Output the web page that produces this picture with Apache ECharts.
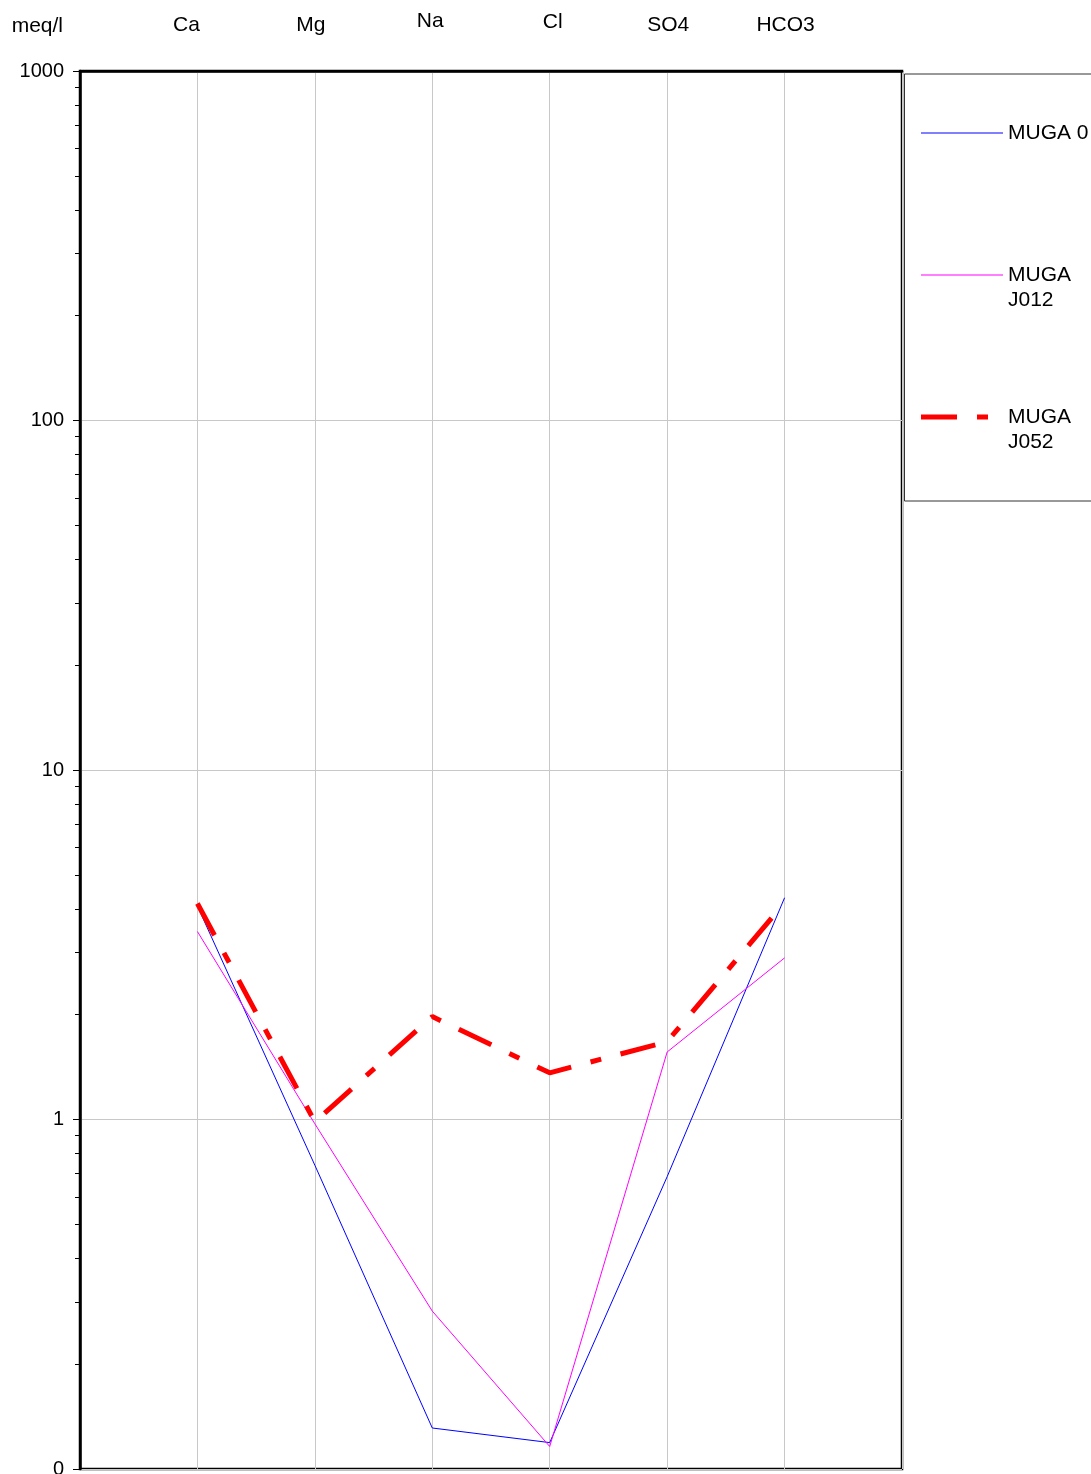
<!DOCTYPE html>
<html>
<head>
<meta charset="utf-8">
<title>Schoeller diagram</title>
<script src="https://cdn.jsdelivr.net/npm/echarts@6/dist/echarts.min.js"></script>
<style>
  html, body { margin: 0; padding: 0; background: #ffffff; }
  #chart { width: 1091px; height: 1474px; }
</style>
</head>
<body>
<div id="chart"></div>
<script>
// Ions along the horizontal axis
const ions = ['Ca', 'Mg', 'Na', 'Cl', 'SO4', 'HCO3'];

// Concentrations in meq/l for each sample
const mugaO = [4.08, 0.74, 0.131, 0.119, 0.686, 4.31];
const mugaJ012 = [3.45, 0.972, 0.283, 0.116, 1.56, 2.90];
const mugaJ052 = [4.15, 0.985, 1.97, 1.36, 1.67, 4.17];

// Sample names as shown in the legend
const sampleNames = ['MUGA 0', 'MUGA\nJ012', 'MUGA\nJ052'];
const sampleColors = ['#0000ff', '#ff00ff', '#ff0000'];

// Log axis tick labels (0.1 is printed as "0")
const yMajorTicks = [0.1, 1, 10, 100, 1000];
const yMajorLabels = ['0', '1', '10', '100', '1000'];

// Minor ticks at 2..9 of every decade
const yMinorTicks = [];
[0.1, 1, 10, 100].forEach(function (d) {
  for (let k = 2; k <= 9; k++) yMinorTicks.push(+(d * k).toPrecision(3));
});

const FONT = '"Liberation Sans", Arial, sans-serif';

// Small nudges of the ion headings (dx, dy in px) so they sit like hand-placed captions
const headingNudge = [[-11, 0], [-4, 0], [-2, -4], [3, -3], [1, 0], [1, 0]];

const headingRich = {};
headingNudge.forEach(function (n, i) {
  const dx = n[0], dy = n[1];
  headingRich['h' + i] = {
    fontFamily: FONT, fontSize: 21, color: '#000000',
    padding: [0, dx < 0 ? -2 * dx : 0, dy < 0 ? -dy : 0, dx > 0 ? 2 * dx : 0]
  };
});

function toPoints(values) {
  return values.map(function (v, i) { return [i + 1, v]; });
}

const seriesWidths = [1, 1, 5];

const chart = echarts.init(document.getElementById('chart'), null, { renderer: 'canvas' });

chart.setOption({
  animation: false,
  backgroundColor: '#ffffff',
  textStyle: { fontFamily: FONT },
  grid: {
    left: 80, top: 71, right: 189, bottom: 5,
    show: true, borderColor: '#000000', borderWidth: 2.5,
    containLabel: false,
    outerBoundsMode: 'none'
  },
  legend: {
    orient: 'vertical',
    left: 904.5, top: 74,
    padding: [21.5, 120, 46.5, 14],
    itemWidth: 82, itemHeight: 14, itemGap: 67,
    borderColor: '#333333', borderWidth: 1,
    selectedMode: false,
    // each entry is three lines tall with the name starting on the middle line,
    // so the key line sits level with the first line of the name
    formatter: function (name) {
      return ' \n' + name + (name.indexOf('\n') < 0 ? '\n ' : '');
    },
    textStyle: { fontFamily: FONT, fontSize: 21, lineHeight: 25, color: '#000000' },
    data: sampleNames.map(function (name, i) {
      return {
        name: name,
        itemStyle: { opacity: 0, borderWidth: 0 },
        lineStyle: { color: sampleColors[i], width: seriesWidths[i] }
      };
    })
  },
  xAxis: {
    type: 'value',
    position: 'top',
    min: 0, max: 7, interval: 1,
    axisLine: { show: true, lineStyle: { color: '#000000', width: 2.5 } },
    axisTick: { show: false },
    axisLabel: {
      margin: 35,
      fontFamily: FONT, fontSize: 21, color: '#000000',
      rich: headingRich,
      formatter: function (v) {
        const i = v - 1;
        return ions[i] ? '{h' + i + '|' + ions[i] + '}' : '';
      }
    },
    splitLine: { show: true, lineStyle: { color: '#c8c8c8', width: 1 } }
  },
  yAxis: [
    {
      type: 'log', logBase: 10,
      min: 0.1, max: 1000,
      name: 'meq/l',
      nameLocation: 'end',
      nameGap: 34,
      nameTextStyle: { fontFamily: FONT, fontSize: 21, color: '#000000', align: 'right', padding: [0, 17, 0, 0] },
      axisLine: { show: true, lineStyle: { color: '#000000', width: 2.5 } },
      axisTick: { show: true, inside: false, length: 7, lineStyle: { color: '#000000', width: 1 } },
      axisLabel: {
        margin: 16,
        fontFamily: FONT, fontSize: 20, color: '#000000',
        formatter: function (v) {
          const i = yMajorTicks.findIndex(function (t) { return Math.abs(t - v) / t < 1e-6; });
          return i >= 0 ? yMajorLabels[i] : '';
        }
      },
      splitLine: { show: true, lineStyle: { color: '#c8c8c8', width: 1 } }
    },
    {
      type: 'log', logBase: 10,
      min: 0.1, max: 1000,
      position: 'left',
      axisLine: { show: false },
      axisTick: { show: true, inside: false, length: 5, customValues: yMinorTicks, lineStyle: { color: '#000000', width: 1 } },
      axisLabel: { show: false },
      splitLine: { show: false }
    }
  ],
  series: [
    {
      name: sampleNames[0], type: 'line', yAxisIndex: 0,
      data: toPoints(mugaO),
      symbol: 'none', showSymbol: false,
      lineStyle: { color: sampleColors[0], width: seriesWidths[0] },
      itemStyle: { color: sampleColors[0] }
    },
    {
      name: sampleNames[1], type: 'line', yAxisIndex: 0,
      data: toPoints(mugaJ012),
      symbol: 'none', showSymbol: false,
      lineStyle: { color: sampleColors[1], width: seriesWidths[1] },
      itemStyle: { color: sampleColors[1] }
    },
    {
      name: sampleNames[2], type: 'line', yAxisIndex: 0,
      data: toPoints(mugaJ052),
      symbol: 'none', showSymbol: false,
      lineStyle: { color: sampleColors[2], width: seriesWidths[2], type: [36, 20, 11, 20], cap: 'butt' },
      itemStyle: { color: sampleColors[2] }
    }
  ]
});
</script>
</body>
</html>
